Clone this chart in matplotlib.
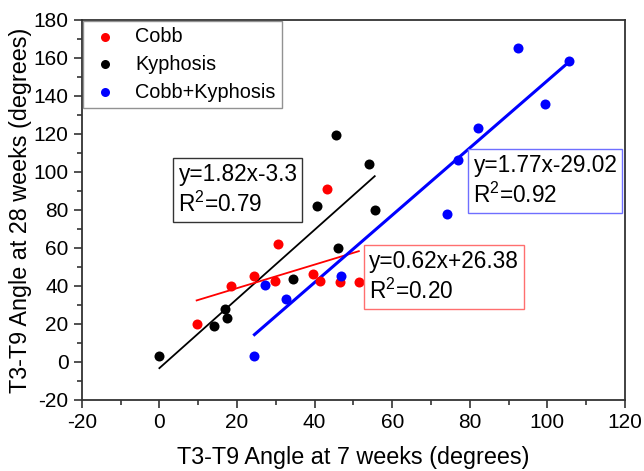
import matplotlib

matplotlib.use("Agg")
import matplotlib.pyplot as plt
import numpy as np
from matplotlib.ticker import MultipleLocator

plt.rcParams["font.family"] = ["Liberation Sans", "DejaVu Sans"]
plt.rcParams["axes.unicode_minus"] = False

# angle at 7 weeks (x) vs angle at 28 weeks (y), per group
cobb_x = [9.6, 18.5, 24.5, 29.7, 30.5, 39.5, 41.5, 43.3, 46.5, 51.4]
cobb_y = [20, 40, 45, 42.8, 62, 46.3, 42.8, 91, 42, 42]
kyph_x = [0, 14, 17, 17.5, 34.5, 40.5, 45.5, 46, 54, 55.5]
kyph_y = [3, 19, 28, 23, 43.5, 82, 119.5, 60, 104, 80]
both_x = [24.5, 27.3, 32.6, 46.7, 74, 77, 82, 92.5, 99.5, 105.5]
both_y = [3.3, 40.5, 33.2, 45.4, 78, 106.3, 123, 165.4, 135.8, 158.4]

# linear fits: slope, intercept, R^2
fit_cobb = (0.62, 26.38, 0.20)
fit_kyph = (1.82, -3.3, 0.79)
fit_both = (1.77, -29.02, 0.92)

fig = plt.figure(figsize=(6.44, 4.71), dpi=100)
ax = fig.add_axes([0.127, 0.151, 0.8435, 0.807])

ax.scatter(cobb_x, cobb_y, s=52, color="#ff0000", label="Cobb", zorder=3, linewidths=0)
ax.scatter(kyph_x, kyph_y, s=52, color="#000000", label="Kyphosis", zorder=3, linewidths=0)
ax.scatter(both_x, both_y, s=52, color="#0000ff", label="Cobb+Kyphosis", zorder=3, linewidths=0)


def fit_line(xs, fit, color, lw):
    m, b, _ = fit
    xx = np.array([min(xs), max(xs)])
    ax.plot(xx, m * xx + b, color=color, lw=lw, zorder=2)


fit_line(kyph_x, fit_kyph, "#000000", 1.3)
fit_line(cobb_x, fit_cobb, "#ff0000", 1.3)
fit_line(both_x, fit_both, "#0000ff", 2.2)


def eq_box(x, y, fit, edge):
    m, b, r2 = fit
    sign = "+" if b >= 0 else "-"
    txt = f"y={m:.2f}x{sign}{abs(b):g}\nR$^\\mathregular{{2}}$={r2:.2f}"
    ax.text(x, y, txt, transform=ax.transAxes, fontsize=16.3, va="top", ha="left",
            linespacing=1.3,
            bbox=dict(boxstyle="square,pad=0.22", fc="white", ec=edge, lw=1.0))


eq_box(0.178, 0.624, fit_kyph, "#333333")
eq_box(0.721, 0.648, fit_both, "#6f6fff")
eq_box(0.529, 0.395, fit_cobb, "#ff6f6f")

ax.set_xlim(-20, 120)
ax.set_ylim(-20, 180)
ax.xaxis.set_major_locator(MultipleLocator(20))
ax.xaxis.set_minor_locator(MultipleLocator(10))
ax.yaxis.set_major_locator(MultipleLocator(20))
ax.yaxis.set_minor_locator(MultipleLocator(10))
ax.tick_params(which="both", direction="out", labelsize=15, width=1.2, color="#333333")
ax.tick_params(which="major", length=6)
ax.tick_params(which="minor", length=3.5)
for sp in ax.spines.values():
    sp.set_linewidth(1.3)
    sp.set_color("#333333")

ax.set_xlabel("T3-T9 Angle at 7 weeks (degrees)", fontsize=16.8, labelpad=10)
ax.set_ylabel("T3-T9 Angle at 28 weeks (degrees)", fontsize=16.8, labelpad=1)

leg = ax.legend(loc="upper left", fontsize=14.3, frameon=True, fancybox=False,
                borderaxespad=0.05, handlelength=1.6, handletextpad=0.75,
                borderpad=0.3, labelspacing=0.45, markerscale=0.9)
leg.get_frame().set_edgecolor("#777777")
leg.get_frame().set_linewidth(1.0)

fig.savefig("out.png", dpi=100)
